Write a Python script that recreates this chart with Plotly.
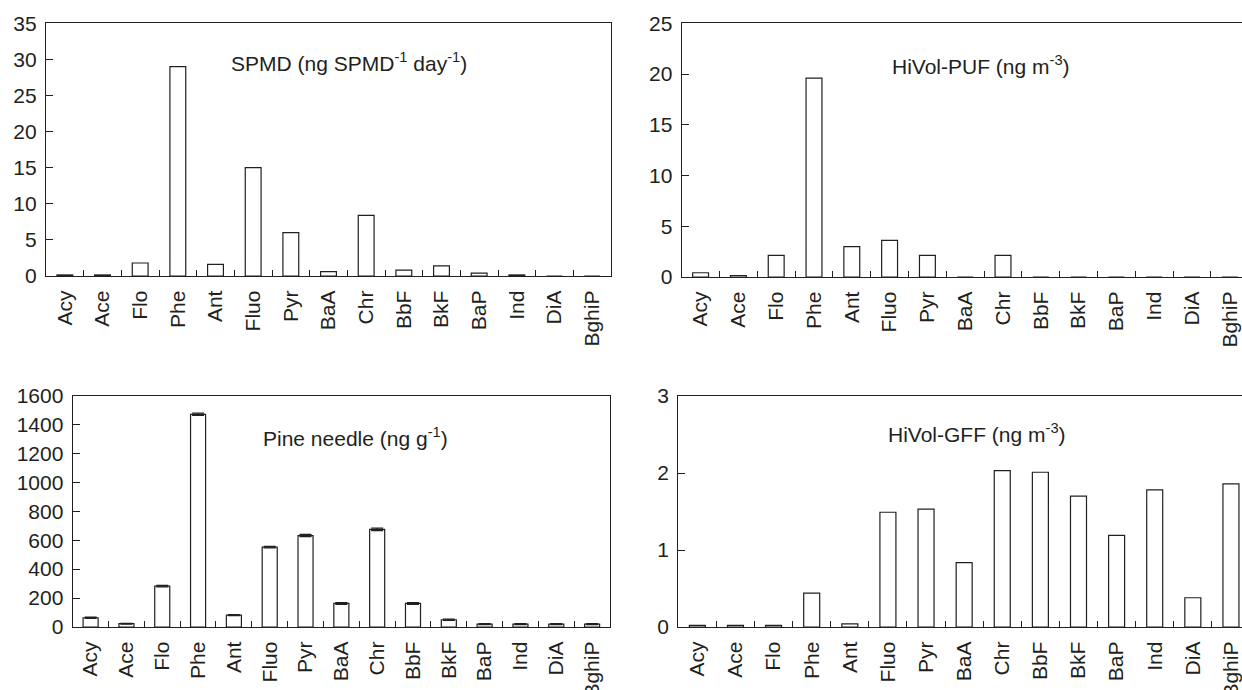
import plotly.graph_objects as go

categories = ["Acy", "Ace", "Flo", "Phe", "Ant", "Fluo", "Pyr", "BaA", "Chr",
              "BbF", "BkF", "BaP", "Ind", "DiA", "BghiP"]

spmd = [0.15, 0.15, 1.8, 29.0, 1.6, 15.0, 6.0, 0.6, 8.4, 0.8, 1.4, 0.4, 0.15, 0, 0]
hivol_puf = [0.42, 0.15, 2.14, 19.6, 3.0, 3.6, 2.14, 0, 2.14, 0, 0, 0, 0, 0, 0]
pine_needle = [64, 23, 282, 1470, 82, 552, 632, 163, 675, 163, 50, 20, 20, 20, 20]
pine_err = [4, 3, 5, 8, 4, 5, 8, 6, 9, 6, 5, 3, 3, 3, 3]
hivol_gff = [0.02, 0.02, 0.02, 0.44, 0.04, 1.49, 1.53, 0.835, 2.03, 2.01, 1.70, 1.19, 1.78, 0.38, 1.86]

titles = ["SPMD (ng SPMD<sup>-1</sup> day<sup>-1</sup>)",
          "HiVol-PUF (ng m<sup>-3</sup>)",
          "Pine needle (ng g<sup>-1</sup>)",
          "HiVol-GFF (ng m<sup>-3</sup>)"]

W, H = 1242, 690
INK = "#231f20"
FONT = "Liberation Sans, Arial, sans-serif"
FS = 21


def px_x(v):
    return v / W


def px_y(v):
    return 1 - v / H


# panel geometry in window pixels: left, right, top, bottom, x-range end
panels = [
    dict(l=46, r=611, t=23.3, b=276, xend=14.5, ymax=35, dtick=5, mirror_y=True),
    dict(l=681.7, r=1242, t=23.3, b=277, xend=14.5 - (1248.7 - 1242) / 37.8, ymax=25, dtick=5, mirror_y=False),
    dict(l=72.7, r=610, t=395.5, b=627, xend=14.5, ymax=1600, dtick=200, mirror_y=True),
    dict(l=678.3, r=1242, t=396, b=627, xend=14.5 - (1250 - 1242) / 38.1, ymax=3, dtick=1, mirror_y=False),
]

series = [spmd, hivol_puf, pine_needle, hivol_gff]
errors = [None, None, pine_err, None]
ann_pos = [(349, 62), (981, 65), (355, 437), (977, 433)]

fig = go.Figure()
for i, (p, vals) in enumerate(zip(panels, series)):
    n = "" if i == 0 else str(i + 1)
    bar = go.Bar(
        x=categories, y=vals,
        marker=dict(color="white", line=dict(color=INK, width=1.2)),
        xaxis="x" + n, yaxis="y" + n, showlegend=False,
    )
    if errors[i] is not None:
        bar.error_y = dict(type="data", array=errors[i], visible=True,
                           color=INK, thickness=1.2, width=6)
    fig.add_trace(bar)
    fig.layout["xaxis" + n] = dict(
        domain=[px_x(p["l"]), min(1.0, px_x(p["r"]))],
        anchor="y" + n,
        type="category",
        range=[-0.5, p["xend"]],
        automargin=False,
        showline=True, linecolor=INK, linewidth=1.3, mirror=True,
        ticks="inside", tickson="boundaries", ticklen=6, tickcolor=INK, tickwidth=1.2,
        tickangle=-90, showgrid=False,
        tickfont=dict(family=FONT, size=FS, color=INK),
        ticklabelstandoff=5,
    )
    fig.layout["yaxis" + n] = dict(
        domain=[px_y(p["b"]), px_y(p["t"])],
        anchor="x" + n,
        range=[0, p["ymax"]], dtick=p["dtick"], tick0=0,
        automargin=False,
        showline=True, linecolor=INK, linewidth=1.3, mirror=p["mirror_y"],
        ticks="inside", ticklen=7, tickcolor=INK, tickwidth=1.2,
        showgrid=False, zeroline=False,
        tickfont=dict(family=FONT, size=FS, color=INK),
        ticklabelstandoff=4,
    )
    ax, ay = ann_pos[i]
    fig.add_annotation(
        x=px_x(ax), y=px_y(ay), xref="paper", yref="paper",
        text=titles[i], showarrow=False, xanchor="center", yanchor="middle",
        font=dict(family=FONT, size=FS, color=INK),
    )

fig.update_layout(
    template="none",
    width=W, height=H,
    margin=dict(l=0, r=0, t=0, b=0, pad=0, autoexpand=False),
    paper_bgcolor="white", plot_bgcolor="white",
    bargap=0.58,
    font=dict(family=FONT, color=INK),
)

# remove the default page margin so the figure fills the window exactly
page_fix = ("document.body.style.margin='0';"
            "document.body.style.padding='0';"
            "document.documentElement.style.overflow='hidden';")

fig.write_html("out.html", post_script=page_fix,
               config={"displayModeBar": False})
